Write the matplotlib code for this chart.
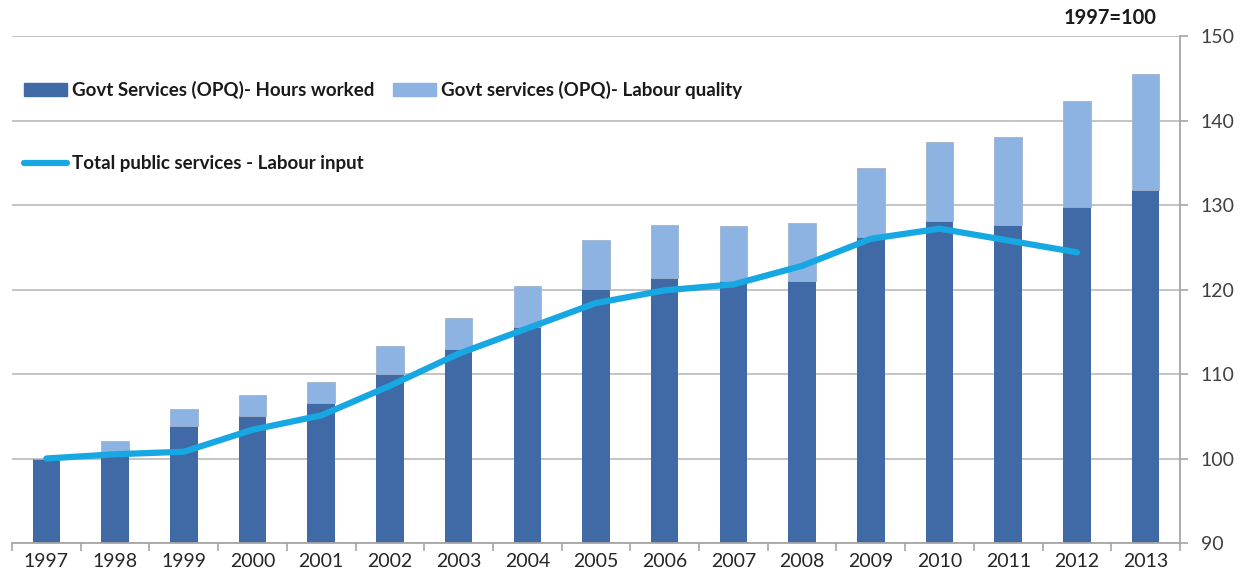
import numpy as np
import matplotlib
matplotlib.use("Agg")
import matplotlib.pyplot as plt
from matplotlib.lines import Line2D
from matplotlib.patches import Patch

# --- Dades (1997=100) ---
anys = ["1997", "1998", "1999", "2000", "2001", "2002", "2003", "2004", "2005",
        "2006", "2007", "2008", "2009", "2010", "2011", "2012", "2013"]

# Hores treballades (part fosca de la barra)
hores = [100.0, 100.7, 103.9, 105.0, 106.6, 110.0, 112.9, 115.6, 120.1,
         121.4, 121.0, 121.0, 126.2, 128.1, 127.6, 129.8, 131.8]
# Total barra (hores + qualitat)
total_barra = [100.0, 102.1, 105.9, 107.5, 109.0, 113.3, 116.6, 120.4, 125.8,
               127.6, 127.5, 127.9, 134.4, 137.4, 138.0, 142.3, 145.5]
qualitat = [t - h for t, h in zip(total_barra, hores)]

# Total serveis publics - labour input (fins 2012)
labour_input = [100.0, 100.5, 100.8, 103.4, 105.1, 108.6, 112.4, 115.4, 118.4,
                119.9, 120.6, 122.8, 126.0, 127.2, 125.8, 124.4]

col_fosc = "#406AA5"
col_clar = "#8DB3E2"
col_linia = "#17A7E3"
col_gris = "#A6A6A6"
font = "Lato"

plt.rcParams["font.family"] = [font, "DejaVu Sans"]

fig = plt.figure(figsize=(12.42, 5.75), dpi=100)
ax = fig.add_axes([12 / 1242, 32 / 575, 1168 / 1242, 507 / 575])

x = np.arange(len(anys))
ax.bar(x, hores, width=0.4, bottom=0, color=col_fosc, zorder=2)
ax.bar(x, qualitat, width=0.4, bottom=hores, color=col_clar,
       edgecolor="#9FB3CC", linewidth=0.6, zorder=2)
ax.plot(x[:len(labour_input)], labour_input, color=col_linia, lw=4.5,
        solid_capstyle="round", solid_joinstyle="round", zorder=3)

ax.set_ylim(90, 150)
ax.set_xlim(-0.5, len(anys) - 0.5)
ax.set_yticks(range(90, 151, 10))
ax.yaxis.tick_right()
ax.grid(axis="y", color="#BFBFBF", lw=1.3, zorder=0)
ax.set_axisbelow(True)

# eix x: marques als limits de categoria
ax.set_xticks(np.arange(-0.5, len(anys), 1.0))
ax.set_xticklabels([])
ax.set_xticks(x, minor=True)
ax.set_xticklabels(anys, minor=True, fontsize=14, color="#262626")
ax.tick_params(axis="x", which="major", length=6, color=col_gris, width=1.2)
ax.tick_params(axis="x", which="minor", length=0, pad=7)
ax.tick_params(axis="y", length=6, color=col_gris, width=1.2,
               labelsize=14, labelcolor="#404040", pad=9)

for s in ["top", "left"]:
    ax.spines[s].set_visible(False)
for s in ["bottom", "right"]:
    ax.spines[s].set_color(col_gris)
    ax.spines[s].set_linewidth(1.3)

ax.text(0.98, 1.015, "1997=100", transform=ax.transAxes, ha="right",
        va="bottom", fontsize=14.5, fontweight="bold", color="#1a1a1a")

handles = [Patch(color=col_fosc), Line2D([0], [0], color=col_linia, lw=4.5, solid_capstyle="round"),
           Patch(color=col_clar)]
labels = ["Govt Services (OPQ)- Hours worked", "Total public services - Labour input",
          "Govt services (OPQ)- Labour quality"]
leg = ax.legend(handles, labels, ncol=2, loc="upper left", bbox_to_anchor=(0.0, 0.935),
                frameon=False, fontsize=13.5, handlelength=2.3, handletextpad=0.25,
                labelspacing=3.0, columnspacing=1.0, borderaxespad=0.25)
for t in leg.get_texts():
    t.set_fontweight("bold")
    t.set_color("#1a1a1a")

fig.savefig("out.png", dpi=100)
